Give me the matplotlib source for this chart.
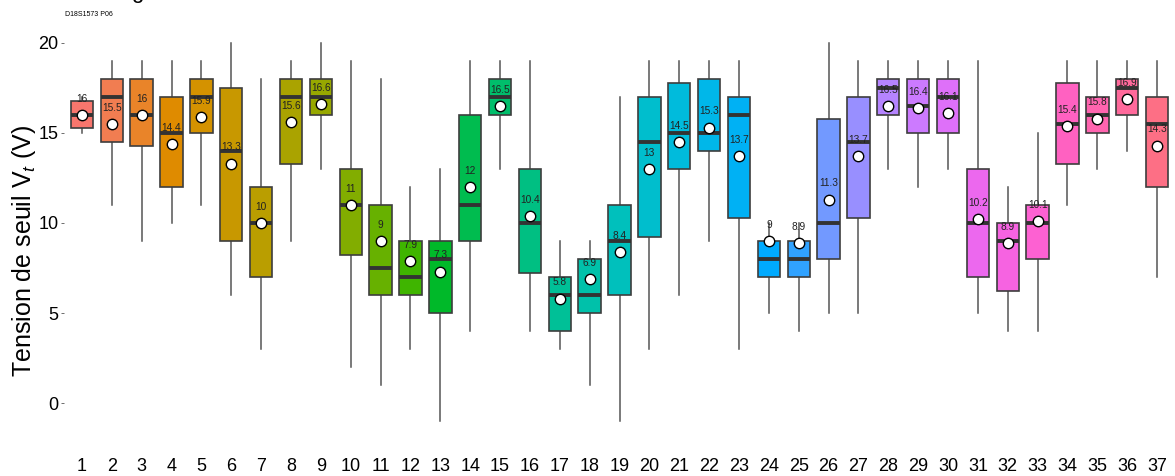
import numpy as np
import matplotlib
matplotlib.use('Agg')
import matplotlib.pyplot as plt

plt.rcParams['font.family'] = ['Liberation Sans', 'DejaVu Sans']
plt.rcParams['mathtext.fontset'] = 'custom'
plt.rcParams['mathtext.rm'] = 'Liberation Sans'
plt.rcParams['mathtext.it'] = 'Liberation Sans:italic'

groups = [str(i) for i in range(1, 38)]
lows = [15, 11, 9, 10, 11, 6, 3, 9, 13, 2, 1, 3, -1, 4, 13, 4, 3, 1, -1, 3,
        6, 9, 3, 5, 4, 5, 5, 13, 12, 13, 5, 4, 4, 11, 13, 14, 7]
q1s = [15.25, 14.5, 14.25, 12, 15, 9, 7, 13.25, 16, 8.25, 6, 6, 5, 9, 16, 7.25, 4, 5, 6, 9.25,
       13, 14, 10.25, 7, 7, 8, 10.25, 16, 15, 15, 7, 6.25, 8, 13.25, 15, 16, 12]
medians = [16, 17, 16, 15, 17, 14, 10, 17, 17, 11, 7.5, 7, 8, 11, 17, 10, 6, 6, 9, 14.5,
           15, 15, 16, 8, 8, 10, 14.5, 17.5, 16.5, 17, 10, 9, 10, 15.5, 16, 17.5, 15.5]
q3s = [16.75, 18, 18, 17, 18, 17.5, 12, 18, 18, 13, 11, 9, 9, 16, 18, 13, 7, 8, 11, 17,
       17.75, 18, 17, 9, 9, 15.75, 17, 18, 18, 18, 13, 10, 11, 17.75, 17, 18, 17]
highs = [17, 19, 19, 19, 19, 20, 18, 19, 20, 19, 18, 12, 13, 19, 19, 19, 9, 9, 17, 19,
         19, 19, 19, 10, 10, 20, 19, 19, 19, 19, 19, 12, 15, 19, 19, 19, 19]
means = [16, 15.5, 16, 14.4, 15.9, 13.3, 10, 15.6, 16.6, 11, 9, 7.9, 7.3, 12, 16.5, 10.4, 5.8, 6.9, 8.4, 13,
         14.5, 15.3, 13.7, 9, 8.9, 11.3, 13.7, 16.5, 16.4, 16.1, 10.2, 8.9, 10.1, 15.4, 15.8, 16.9, 14.3]


def hue_colors(n, c=100, l=65):
    # ggplot default hue palette (polar Luv -> sRGB)
    h = np.linspace(15, 375, n + 1)[:n]
    L = l
    u = c * np.cos(np.radians(h))
    v = c * np.sin(np.radians(h))
    Y = np.full_like(h, ((L + 16) / 116) ** 3)
    un, vn = 0.1978398, 0.4683363
    up = u / (13 * L) + un
    vp = v / (13 * L) + vn
    X = Y * 9 * up / (4 * vp)
    Z = Y * (12 - 3 * up - 20 * vp) / (4 * vp)
    M = np.array([[3.240479, -1.537150, -0.498535],
                  [-0.969256, 1.875992, 0.041556],
                  [0.055648, -0.204043, 1.057311]])
    rgb = M @ np.vstack([X, Y, Z])
    rgb = np.where(rgb > 0.00304, 1.055 * np.clip(rgb, 0, None) ** (1 / 2.4) - 0.055, 12.92 * rgb)
    return np.clip(rgb.T, 0, 1)


colors = hue_colors(len(groups))
pos = np.arange(1, len(groups) + 1)

fig = plt.figure(figsize=(11.75, 4.76), dpi=100)
ax = fig.add_axes([0.0545, 0.0756, 0.9455, 0.874])

stats = []
for i in range(len(groups)):
    stats.append(dict(med=medians[i], q1=q1s[i], q3=q3s[i],
                      whislo=lows[i], whishi=highs[i], fliers=[]))

bp = ax.bxp(stats, positions=pos, widths=0.75, patch_artist=True,
            showfliers=False, showcaps=False,
            boxprops=dict(edgecolor='#3d3d3d', linewidth=1.2),
            whiskerprops=dict(color='#555555', linewidth=1.1),
            medianprops=dict(color='#333333', linewidth=2.8))
for patch, col in zip(bp['boxes'], colors):
    patch.set_facecolor(col)
    patch.set_zorder(2)
for m in bp['medians']:
    m.set_zorder(3)
for w in bp['whiskers']:
    w.set_zorder(1)

ax.plot(pos, means, 'o', ms=7.5, mfc='white', mec='black', mew=1, zorder=4)
for x, m in zip(pos, means):
    ax.text(x, m + 0.9, f'{m:g}', ha='center', va='center', fontsize=7.3,
            color='#222222', zorder=5)

ax.set_xlim(0.4, len(groups) + 0.6)
ax.set_ylim(-2.05, 21.05)
ax.set_xticks(pos)
ax.set_xticklabels(groups)
ax.set_yticks([0, 5, 10, 15, 20])
ax.tick_params(axis='x', length=0, pad=13, labelsize=13)
ax.tick_params(axis='y', length=2.5, width=0.6, color='#555555', pad=1.5, labelsize=13)
for s in ax.spines.values():
    s.set_visible(False)
ax.set_ylabel('Tension de seuil V$_t$ (V)', fontsize=18)
ax.yaxis.set_label_coords(-0.023, 0.455)

fig.text(0.117, 1.004, 'g', fontsize=16, ha='center', va='baseline')
fig.text(0.055, 1 - 14 / 476, 'D18S1573 P06', fontsize=5, va='center')

plt.savefig('out.png')
